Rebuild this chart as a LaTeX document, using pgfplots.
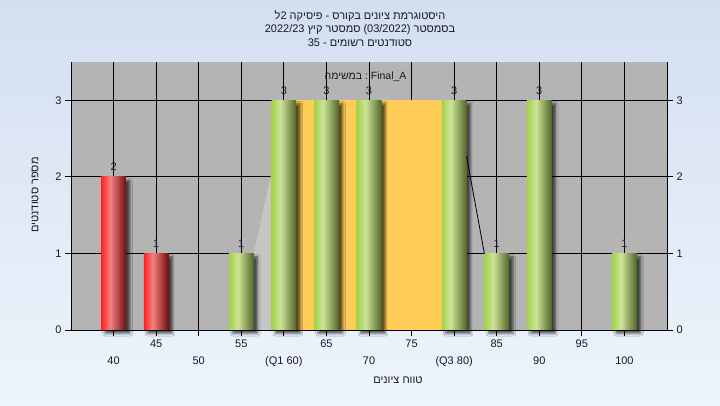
\documentclass[border=0pt]{standalone}
\usepackage{pgfplots}
\pgfplotsset{compat=1.18}
\usetikzlibrary{shadows.blur}
\usepackage{fontspec}
\setmainfont{Liberation Sans}
\newfontfamily\hebfont[Script=Hebrew]{Liberation Sans}
\TeXXeTstate=1

\definecolor{bgtop}{RGB}{211,223,240}
\definecolor{bgbot}{RGB}{238,244,252}
\definecolor{plotbg}{RGB}{180,180,180}
\definecolor{iqr}{RGB}{255,204,88}
\definecolor{wedge}{RGB}{198,198,198}
\definecolor{rL}{RGB}{255,35,35}
\definecolor{rM}{RGB}{245,128,128}
\definecolor{rR}{RGB}{112,14,14}
\definecolor{gL}{RGB}{162,210,72}
\definecolor{gM}{RGB}{206,228,152}
\definecolor{gR}{RGB}{82,102,42}
\definecolor{txt}{RGB}{22,24,40}

\pgfdeclarehorizontalshading{redbar}{100bp}{color(0bp)=(rL); color(25bp)=(rL); color(43bp)=(rM); color(75bp)=(rR); color(100bp)=(rR)}
\pgfdeclarehorizontalshading{greenbar}{100bp}{color(0bp)=(gL); color(25bp)=(gL); color(43bp)=(gM); color(75bp)=(gR); color(100bp)=(gR)}

\pgfplotsset{
  redb/.style={ybar, bar width=2.9, bar shift=0pt, draw=none, shading=redbar,
    blur shadow={shadow xshift=4pt, shadow yshift=-3.5pt, shadow blur radius=2.5pt, shadow opacity=65}},
  greenb/.style={ybar, bar width=2.9, bar shift=0pt, draw=none, shading=greenbar,
    blur shadow={shadow xshift=4pt, shadow yshift=-3.5pt, shadow blur radius=2.5pt, shadow opacity=65}},
}

\begin{document}
\begin{tikzpicture}[font=\fontsize{11}{13}\selectfont]
\useasboundingbox (0,0) rectangle (720pt,405pt);
\shade[top color=bgtop, bottom color=bgbot] (0,0) rectangle (720pt,405pt);

\node[text=txt] at (360pt,389pt) {\hebfont\beginR היסטוגרמת ציונים בקורס - פיסיקה 2ל\endR};
\node[text=txt] at (360pt,375pt) {\hebfont\beginR בסמסטר (03/2022) סמסטר קיץ 2022/23\endR};
\node[text=txt] at (360pt,362pt) {\hebfont\beginR סטודנטים רשומים - 35\endR};
\node[text=txt, rotate=90] at (35pt,210pt) {\hebfont\beginR מספר סטודנטים\endR};
\node[text=txt] at (398pt,25pt) {\hebfont\beginR טווח ציונים\endR};

\begin{axis}[
  at={(71pt,75pt)}, anchor=south west, scale only axis,
  width=596pt, height=268pt,
  xmin=35, xmax=105, ymin=0, ymax=3.5,
  clip=false,
  axis background/.style={fill=plotbg},
  axis line style={draw=none},
  xmajorgrids, ymajorgrids,
  major grid style={black, line width=0.8pt},
  xtick={40,50,60,70,80,90,100},
  xticklabels={40,50,(Q1 60),70,(Q3 80),90,100},
  xticklabel style={yshift=-17pt},
  extra x ticks={45,55,65,75,85,95},
  extra x tick labels={45,55,65,75,85,95},
  extra x tick style={xmajorgrids=true, xticklabel style={yshift=17pt}},
  ytick={0,1,2,3},
  xtick pos=bottom, ytick pos=left,
  tick align=outside,
  major tick length=6pt,
  major tick style={black, line width=0.8pt},
  /pgf/number format/assume math mode=true,
  ticklabel style={font=\fontsize{11}{13}\selectfont, text=txt},
]
% whisker wedge and IQR box
\addplot[fill=wedge, draw=none] coordinates {(56.45,1) (58.6,2.08)} \closedcycle;
\addplot[fill=iqr, draw=none] coordinates {(60,3) (80,3)} \closedcycle;
% bars
\addplot[redb] coordinates {(40,2)};
\addplot[redb] coordinates {(45,1)};
\addplot[greenb] coordinates {(55,1)};
\addplot[greenb] coordinates {(60,3)};
\addplot[greenb] coordinates {(65,3)};
\addplot[greenb] coordinates {(70,3)};
\addplot[greenb] coordinates {(80,3)};
\addplot[greenb] coordinates {(85,1)};
\addplot[greenb] coordinates {(90,3)};
\addplot[greenb] coordinates {(100,1)};
% upper whisker
\addplot[black, line width=0.8pt] coordinates {(81.45,2.27) (83.55,1)};
% value labels
\addplot[draw=none, nodes near coords,
  nodes near coords style={font=\fontsize{11}{13}\selectfont, text=txt, yshift=2.5pt}]
  coordinates {(40,2) (45,1) (55,1) (60,3) (65,3) (70,3) (80,3) (85,1) (90,3) (100,1)};
\node[text=txt, font=\fontsize{10.5}{12}\selectfont] at (axis cs:69.6,3.31) {\hebfont\beginR\beginL Final\_A\endL{} : במשימה\endR};
\draw[black, line width=0.8pt] (rel axis cs:0,1) -- (rel axis cs:0,0) -- (rel axis cs:1,0) -- (rel axis cs:1,1);
\end{axis}

\begin{axis}[
  at={(71pt,75pt)}, anchor=south west, scale only axis,
  width=596pt, height=268pt,
  xmin=35, xmax=105, ymin=0, ymax=3.5,
  hide x axis, axis line style={draw=none},
  ytick={0,1,2,3}, ytick pos=right, yticklabel pos=right,
  tick align=outside, major tick length=6pt,
  major tick style={black, line width=0.8pt},
  /pgf/number format/assume math mode=true,
  ticklabel style={font=\fontsize{11}{13}\selectfont, text=txt},
]
\addplot[draw=none] coordinates {(40,0)};
\end{axis}
\end{tikzpicture}
\end{document}
